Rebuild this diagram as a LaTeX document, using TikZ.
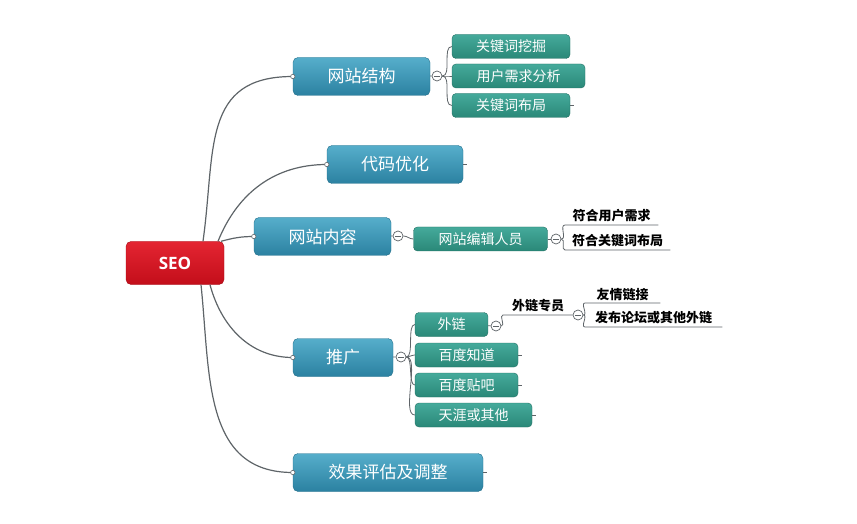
\documentclass[tikz,border=0pt]{standalone}
\usepackage{fontspec}
\usepackage{xcolor}
\newfontfamily\cjk{Noto Sans CJK SC}
\newfontfamily\latin{Open Sans}
\usetikzlibrary{arrows.meta}

% Colours of the map
\definecolor{redtop}{HTML}{E42532}
\definecolor{redbot}{HTML}{C30E1A}
\definecolor{reddark}{HTML}{A50C16}
\definecolor{bluetop}{HTML}{56AECB}
\definecolor{bluebot}{HTML}{2B81A1}
\definecolor{bluedark}{HTML}{24708C}
\definecolor{tealtop}{HTML}{45AA9B}
\definecolor{tealbot}{HTML}{2A8878}
\definecolor{tealdark}{HTML}{236F63}
\definecolor{linegray}{HTML}{5E6468}

\tikzset{
  root/.style={rectangle, rounded corners=5pt, draw=reddark, top color=redtop, bottom color=redbot,
    text=white, font=\latin\bfseries\fontsize{17}{17}\selectfont, minimum width=98pt, minimum height=43pt},
  topic/.style={rectangle, rounded corners=5pt, draw=bluedark, top color=bluetop, bottom color=bluebot,
    text=white, font=\cjk\fontsize{17}{17}\selectfont, minimum height=38pt, inner xsep=0pt},
  subtopic/.style={rectangle, rounded corners=4pt, draw=tealdark, top color=tealtop, bottom color=tealbot,
    text=white, font=\cjk\fontsize{14}{14}\selectfont, minimum height=24pt, inner xsep=0pt},
  leaf/.style={inner xsep=0pt, inner ysep=2.5pt, anchor=south west, text=black,
    font=\cjk\bfseries\fontsize{13}{13}\selectfont},
  branch/.style={draw=linegray, line width=1.2pt},
  twig/.style={draw=linegray, line width=0.8pt},
  endring/.style={draw=linegray, fill=white, line width=0.6pt},
  toggle/.style={circle, draw=linegray, fill=white, minimum size=10pt, inner sep=0pt, line width=0.7pt,
    path picture={\draw[linegray, line width=0.9pt]
      ([xshift=-2.6pt]path picture bounding box.center) -- ([xshift=2.6pt]path picture bounding box.center);}},
}

\begin{document}
\begin{tikzpicture}[x=1pt, y=1pt]
  \useasboundingbox (0,0) rectangle (857,523);

  % Root
  \node[root] (seo) at (175,260) {SEO};

  % Main topics
  \node[topic, minimum width=137pt] (jg) at (361.5,446.5) {网站结构};
  \node[topic, minimum width=136pt] (dm) at (395,358.5) {代码优化};
  \node[topic, minimum width=137pt] (nr) at (322.5,286.5) {网站内容};
  \node[topic, minimum width=100pt] (tg) at (343,165.5) {推广};
  \node[topic, minimum width=190pt] (pg) at (388,50.5) {效果评估及调整};

  % Branches from the root
  \draw[branch] ([xshift=28]seo.north) to[out=82, in=180, looseness=1.25] (jg.west);
  \draw[branch] ([xshift=43]seo.north) to[out=68, in=180] (dm.west);
  \draw[branch] ([xshift=46]seo.north) to[out=15, in=180] (nr.west);
  \draw[branch] ([xshift=35]seo.south) to[out=-75, in=180] (tg.west);
  \draw[branch] ([xshift=26]seo.south) to[out=-84, in=180, looseness=1.1] (pg.west);
  \foreach \n in {jg, dm, nr, tg, pg}
    \draw[endring] (\n.west) circle (2.2pt);

  % 网站结构
  \node[toggle] (t1) at (437,447) {};
  \node[subtopic, minimum width=118pt] (gjc) at (511,476.5) {关键词挖掘};
  \node[subtopic, minimum width=133pt] (xq) at (518.5,447) {用户需求分析};
  \node[subtopic, minimum width=118pt] (bj) at (511,417.5) {关键词布局};
  \draw[twig] (jg) -- (t1);
  \foreach \n in {gjc, xq, bj}
    \draw[twig] (t1) to[out=0, in=180, looseness=0.8] (\n.west);

  % 网站内容
  \node[toggle] (t2) at (398,287) {};
  \node[subtopic, minimum width=134pt] (bz) at (480.5,284) {网站编辑人员};
  \node[toggle] (t3) at (556,284) {};
  \node[leaf, minimum width=93pt] (fh1) at (565,298) {符合用户需求};
  \node[leaf, minimum width=105pt] (fh2) at (565,273) {符合关键词布局};
  \draw[twig] (nr) -- (t2);
  \draw[twig] (t2) to[out=0, in=180] (bz.west);
  \draw[twig] (bz) -- (t3);
  \draw[twig] (t3) to[out=0, in=180] (fh1.south west) -- (fh1.south east);
  \draw[twig] (t3) to[out=0, in=180] (fh2.south west) -- (fh2.south east);

  % 推广
  \node[toggle] (t4) at (401,166) {};
  \node[subtopic, minimum width=73pt] (wl) at (451.5,198.5) {外链};
  \node[subtopic, minimum width=103pt] (zd) at (466.5,168) {百度知道};
  \node[subtopic, minimum width=103pt] (tb) at (466.5,138) {百度贴吧};
  \node[subtopic, minimum width=117pt] (ty) at (473.5,108) {天涯或其他};
  \draw[twig] (tg) -- (t4);
  \foreach \n in {wl, zd, tb, ty}
    \draw[twig] (t4) to[out=0, in=180, looseness=0.6] (\n.west);

  % 外链
  \node[toggle] (t5) at (496,197) {};
  \node[leaf, minimum width=70pt] (zy) at (503,208) {外链专员};
  \node[toggle] (t6) at (578,208) {};
  \node[leaf, minimum width=75pt] (yq) at (585,220) {友情链接};
  \node[leaf, minimum width=137pt] (fb) at (585,196) {发布论坛或其他外链};
  \draw[twig] (wl) -- (t5);
  \draw[twig] (t5) to[out=0, in=180] (zy.south west) -- (t6);
  \draw[twig] (t6) to[out=0, in=180] (yq.south west) -- (yq.south east);
  \draw[twig] (t6) to[out=0, in=180] (fb.south west) -- (fb.south east);

  % collapsed stubs
  \foreach \n in {dm, bj, zd, tb, ty, pg}
    \draw[twig] (\n.east) -- ++(4,0);
\end{tikzpicture}
\end{document}
